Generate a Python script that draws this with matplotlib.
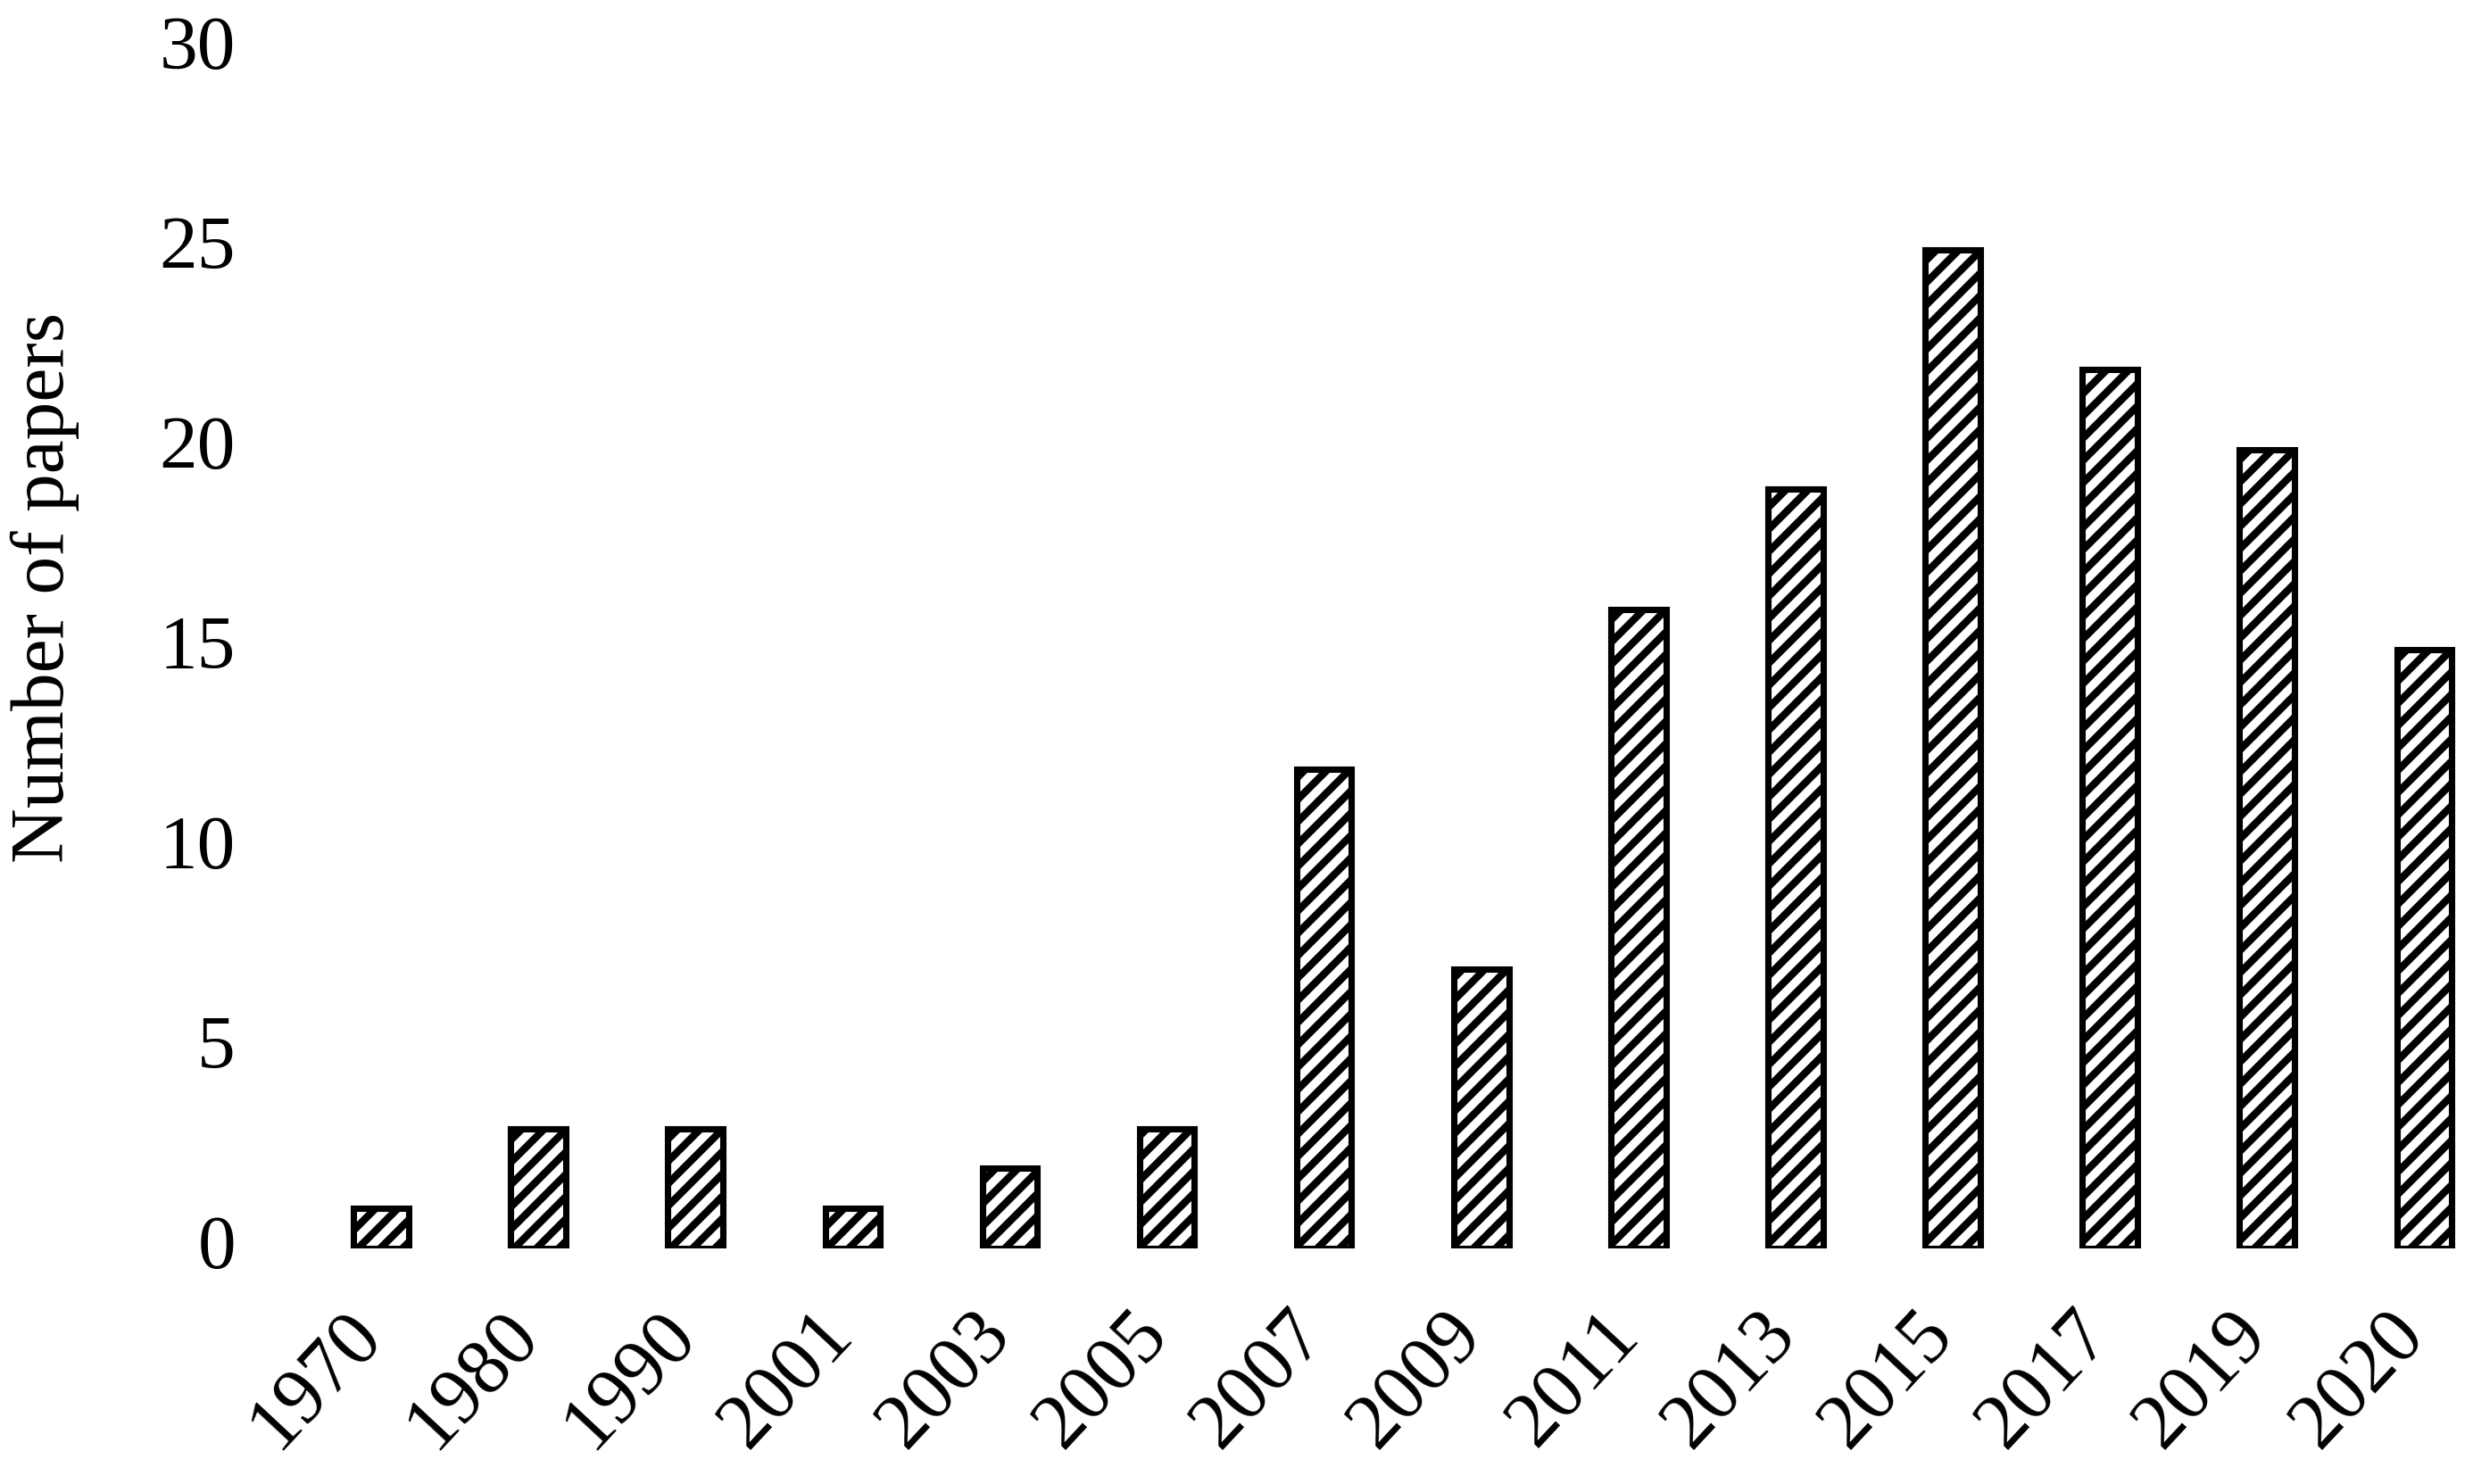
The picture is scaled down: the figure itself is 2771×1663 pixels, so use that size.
import matplotlib
matplotlib.use("Agg")
import matplotlib.pyplot as plt
from matplotlib.transforms import ScaledTranslation

years = ["1970", "1980", "1990", "2001", "2003", "2005", "2007", "2009",
         "2011", "2013", "2015", "2017", "2019", "2020"]
papers = [1, 3, 3, 1, 2, 3, 12, 7, 16, 19, 25, 22, 20, 15]
yticks = [0, 5, 10, 15, 20, 25, 30]

plt.rcParams['font.family'] = ['Liberation Serif', 'DejaVu Serif']
plt.rcParams['hatch.linewidth'] = 4.0

fig = plt.figure(figsize=(2771 / 150, 1663 / 150), dpi=150)
ax = fig.add_axes([339 / 2771, 1 - 1399 / 1663, 1 - 339 / 2771, (1399 - 56) / 1663])

x = list(range(len(years)))
ax.bar(x, papers, width=0.35, color='white', edgecolor='black',
       linewidth=3.4, hatch='//')

ax.set_xlim(-0.5, 13.31)
ax.set_ylim(0, 30)
ax.set_yticks(yticks)
ax.set_yticklabels([str(v) for v in yticks], fontsize=41)
ax.set_xticks(x)
ax.set_xticklabels(years, fontsize=42, rotation=47, ha='right',
                   va='center', rotation_mode='anchor')
ax.tick_params(axis='both', length=0)
ax.tick_params(axis='y', pad=36)
ax.tick_params(axis='x', pad=40)

# nudge labels to sit like the original
xshift = ScaledTranslation(-14 / 150, 0, fig.dpi_scale_trans)
for lbl in ax.get_xticklabels():
    lbl.set_transform(lbl.get_transform() + xshift)
yshift = ScaledTranslation(0, 8 / 150, fig.dpi_scale_trans)
for lbl in ax.get_yticklabels():
    lbl.set_transform(lbl.get_transform() + yshift)

for s in ax.spines.values():
    s.set_visible(False)

fig.text(50 / 2771, 1 - 658 / 1663, "Number of papers", rotation=90,
         fontsize=41, ha='center', va='center')

fig.savefig("out.png", dpi=150)
